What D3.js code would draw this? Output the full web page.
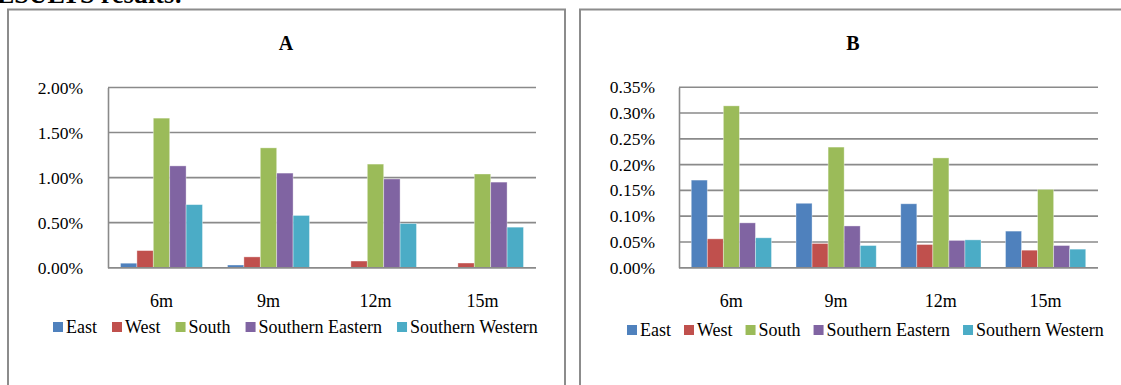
<!DOCTYPE html>
<html lang="en">
<head>
<meta charset="UTF-8">
<script src="https://d3js.org/d3.v7.min.js"></script>
<style>
  body { margin: 0; background: #fff; }
  svg { display: block; font-family: "Liberation Serif", "Times New Roman", serif; }
  .grid line { stroke: #8a8a8a; stroke-width: 1.6; }
  .frame { fill: none; stroke: #8c8c8c; stroke-width: 2; }
</style>
</head>
<body>
<svg width="1121" height="385"></svg>
<script>
// categories and series
const categories = ["6m", "9m", "12m", "15m"];
const seriesNames = ["East", "West", "South", "Southern Eastern", "Southern Western"];
const colors = ["#4F81BD", "#C0504D", "#9BBB59", "#8064A2", "#4BACC6"];

// chart A values (%)
const eastA = [0.05, 0.03, 0.005, 0.003];
const westA = [0.19, 0.12, 0.074, 0.052];
const southA = [1.66, 1.33, 1.15, 1.04];
const sEastA = [1.13, 1.05, 0.985, 0.95];
const sWestA = [0.70, 0.58, 0.49, 0.45];
const ticksA = [0, 0.5, 1.0, 1.5, 2.0];

// chart B values (%)
const eastB = [0.170, 0.125, 0.124, 0.071];
const westB = [0.056, 0.047, 0.045, 0.034];
const southB = [0.314, 0.234, 0.213, 0.152];
const sEastB = [0.087, 0.081, 0.053, 0.043];
const sWestB = [0.058, 0.043, 0.054, 0.036];
const ticksB = [0, 0.05, 0.10, 0.15, 0.20, 0.25, 0.30, 0.35];

const svg = d3.select("svg");

// cut-off heading from the page above
svg.append("text")
    .attr("x", -3).attr("y", 3)
    .style("font-size", "26px").style("font-weight", "bold")
    .text("ESULTS results:");

function drawPanel(p) {
    const g = svg.append("g");

    // panel frame
    g.append("path").attr("class", "frame")
        .attr("d", `M${p.frame[0]},400 V${p.frame[1]} H${p.frame[2]} V400`);

    g.append("text")
        .attr("x", p.titleX).attr("y", 49.5)
        .attr("text-anchor", "middle")
        .style("font-size", "20px").style("font-weight", "bold")
        .text(p.title);

    const x0 = d3.scaleBand().domain(categories).range([p.left, p.right]);
    const pad = x0.bandwidth() * 0.117;
    const x1 = d3.scaleBand().domain(seriesNames).range([pad, x0.bandwidth() - pad]);
    const y = d3.scaleLinear().domain([0, d3.max(p.ticks)]).range([p.bottom, p.top]);

    // gridlines
    g.append("g").attr("class", "grid")
        .selectAll("line").data(p.ticks).join("line")
        .attr("x1", p.left).attr("x2", p.right)
        .attr("y1", d => y(d)).attr("y2", d => y(d));

    // bars
    const rows = seriesNames.map((s, i) => ({ name: s, color: colors[i], vals: p.values[i] }));
    g.selectAll(".series").data(rows).join("g")
        .attr("fill", d => d.color)
        .selectAll("rect")
        .data(d => d.vals.map((v, j) => ({ s: d.name, c: categories[j], v })))
        .join("rect")
        .attr("x", d => x0(d.c) + x1(d.s))
        .attr("width", x1.bandwidth())
        .attr("y", d => y(d.v))
        .attr("height", d => y(0) - y(d.v))
        .attr("stroke", "rgba(255,255,255,0.45)")
        .attr("stroke-width", 0.8);

    // y axis
    const ya = g.append("g")
        .attr("transform", `translate(${p.left},0)`)
        .call(d3.axisLeft(y).tickValues(p.ticks).tickSize(0).tickPadding(p.tickPad)
            .tickFormat(d => d.toFixed(2) + "%"));
    ya.select(".domain").attr("stroke", "#8a8a8a").attr("stroke-width", 1.6);
    ya.selectAll("text").style("font-size", "17.5px").style("font-family", "Liberation Serif").attr("fill", "#000");

    // baseline drawn over bars
    g.append("line")
        .attr("x1", p.left).attr("x2", p.right)
        .attr("y1", y(0)).attr("y2", y(0))
        .attr("stroke", "#8a8a8a").attr("stroke-width", 1.6);

    // category labels
    g.selectAll(".cat").data(categories).join("text")
        .attr("x", d => x0(d) + x0.bandwidth() / 2)
        .attr("y", 306.5)
        .attr("text-anchor", "middle")
        .style("font-size", "18px")
        .text(d => d);

    // legend
    let lx = p.legendX;
    seriesNames.forEach((s, i) => {
        g.append("rect")
            .attr("x", lx).attr("y", p.legendY - 11)
            .attr("width", 10).attr("height", 10)
            .attr("fill", colors[i]);
        const t = g.append("text")
            .attr("x", lx + 13).attr("y", p.legendY)
            .style("font-size", "18px")
            .text(s);
        lx += 13 + t.node().getComputedTextLength() + p.legendGap;
    });
}

drawPanel({
    title: "A", titleX: 286, frame: [8, 9.5, 565],
    left: 108, right: 536, top: 87.5, bottom: 267.7, tickPad: 25,
    ticks: ticksA, values: [eastA, westA, southA, sEastA, sWestA],
    legendX: 53, legendY: 333, legendGap: 15
});

drawPanel({
    title: "B", titleX: 853, frame: [580, 9.5, 1140],
    left: 679, right: 1098, top: 87.3, bottom: 267.7, tickPad: 24,
    ticks: ticksB, values: [eastB, westB, southB, sEastB, sWestB],
    legendX: 627, legendY: 336, legendGap: 13
});
</script>
</body>
</html>
